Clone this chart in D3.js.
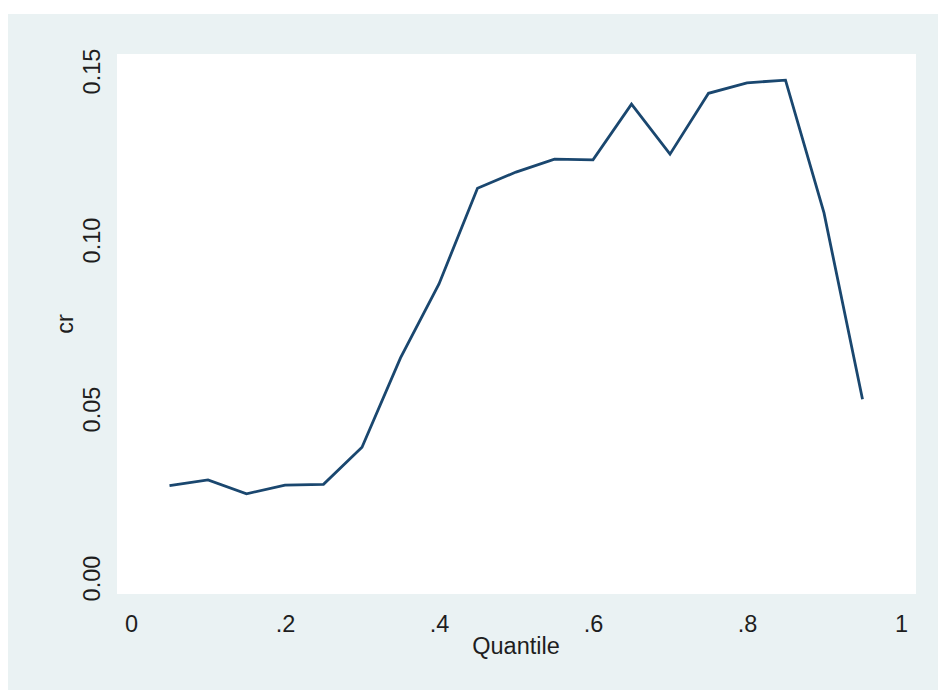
<!DOCTYPE html>
<html>
<head>
<meta charset="utf-8">
<script src="https://cdn.jsdelivr.net/npm/d3@7"></script>
<style>
html,body{margin:0;padding:0;background:#ffffff;}
svg{display:block;}
text{font-family:"Liberation Sans",Arial,Helvetica,sans-serif;fill:#1e1e1e;}
</style>
</head>
<body>
<svg id="chart" width="938" height="692"></svg>
<script>
const quantiles = [0.05,0.10,0.15,0.20,0.25,0.30,0.35,0.40,0.45,0.50,0.55,0.60,0.65,0.70,0.75,0.80,0.85,0.90,0.95];
const crValues  = [0.0273,0.0290,0.0249,0.0275,0.0277,0.0387,0.0651,0.0870,0.1153,0.1201,0.1239,0.1237,0.1402,0.1254,0.1434,0.1465,0.1473,0.1080,0.0529];
const xTicks = [0,0.2,0.4,0.6,0.8,1];
const xTickLabels = ["0",".2",".4",".6",".8","1"];
const yTicks = [0,0.05,0.10,0.15];
const yTickLabels = ["0.00","0.05","0.10","0.15"];
const xTitle = "Quantile";
const yTitle = "cr";

const svg = d3.select("#chart");
const W = 938, H = 692;
const FS = "23.5px";

// outer graph region
svg.append("rect").attr("x",8).attr("y",14).attr("width",W-8).attr("height",676).attr("fill","#eaf2f3");

// plot region
const plot = {left:117, top:54, right:916, bottom:594};
svg.append("rect").attr("x",plot.left).attr("y",plot.top)
  .attr("width",plot.right-plot.left).attr("height",plot.bottom-plot.top).attr("fill","#ffffff");

const x = d3.scaleLinear().domain([0,1]).range([131,901]);
const y = d3.scaleLinear().domain([0,0.15]).range([578,71]);

// x axis labels
const xAxis = d3.axisBottom(x).tickValues(xTicks).tickSize(0).tickPadding(0)
  .tickFormat((d,i)=>xTickLabels[i]);
const gx = svg.append("g").attr("transform","translate(0,632)").call(xAxis);
gx.select(".domain").remove();
gx.selectAll("text").attr("dy",0).attr("y",0)
  .style("font-size",FS).style("fill","#1e1e1e")
  .style("font-family","'Liberation Sans',Arial,sans-serif");

// y axis labels (rotated)
const yAxis = d3.axisLeft(y).tickValues(yTicks).tickSize(0).tickPadding(0)
  .tickFormat((d,i)=>yTickLabels[i]);
const gy = svg.append("g").attr("transform","translate(100,0)").call(yAxis);
gy.select(".domain").remove();
gy.selectAll(".tick text")
  .attr("x",0).attr("y",0).attr("dy",0)
  .attr("text-anchor","middle")
  .attr("transform","rotate(-90)")
  .style("font-size",FS).style("fill","#1e1e1e")
  .style("font-family","'Liberation Sans',Arial,sans-serif");

// axis titles
svg.append("text").attr("x",(x(0)+x(1))/2).attr("y",654)
  .attr("text-anchor","middle").style("font-size",FS).text(xTitle);
svg.append("text").attr("transform",`translate(73,${(plot.top+plot.bottom)/2}) rotate(-90)`)
  .attr("text-anchor","middle").style("font-size",FS).text(yTitle);

// line
const line = d3.line().x((d,i)=>x(quantiles[i])).y(d=>y(d));
svg.append("path").datum(crValues)
  .attr("d",line).attr("fill","none")
  .attr("stroke","#1a476f").attr("stroke-width",2.8)
  .attr("stroke-linejoin","miter");
</script>
</body>
</html>
